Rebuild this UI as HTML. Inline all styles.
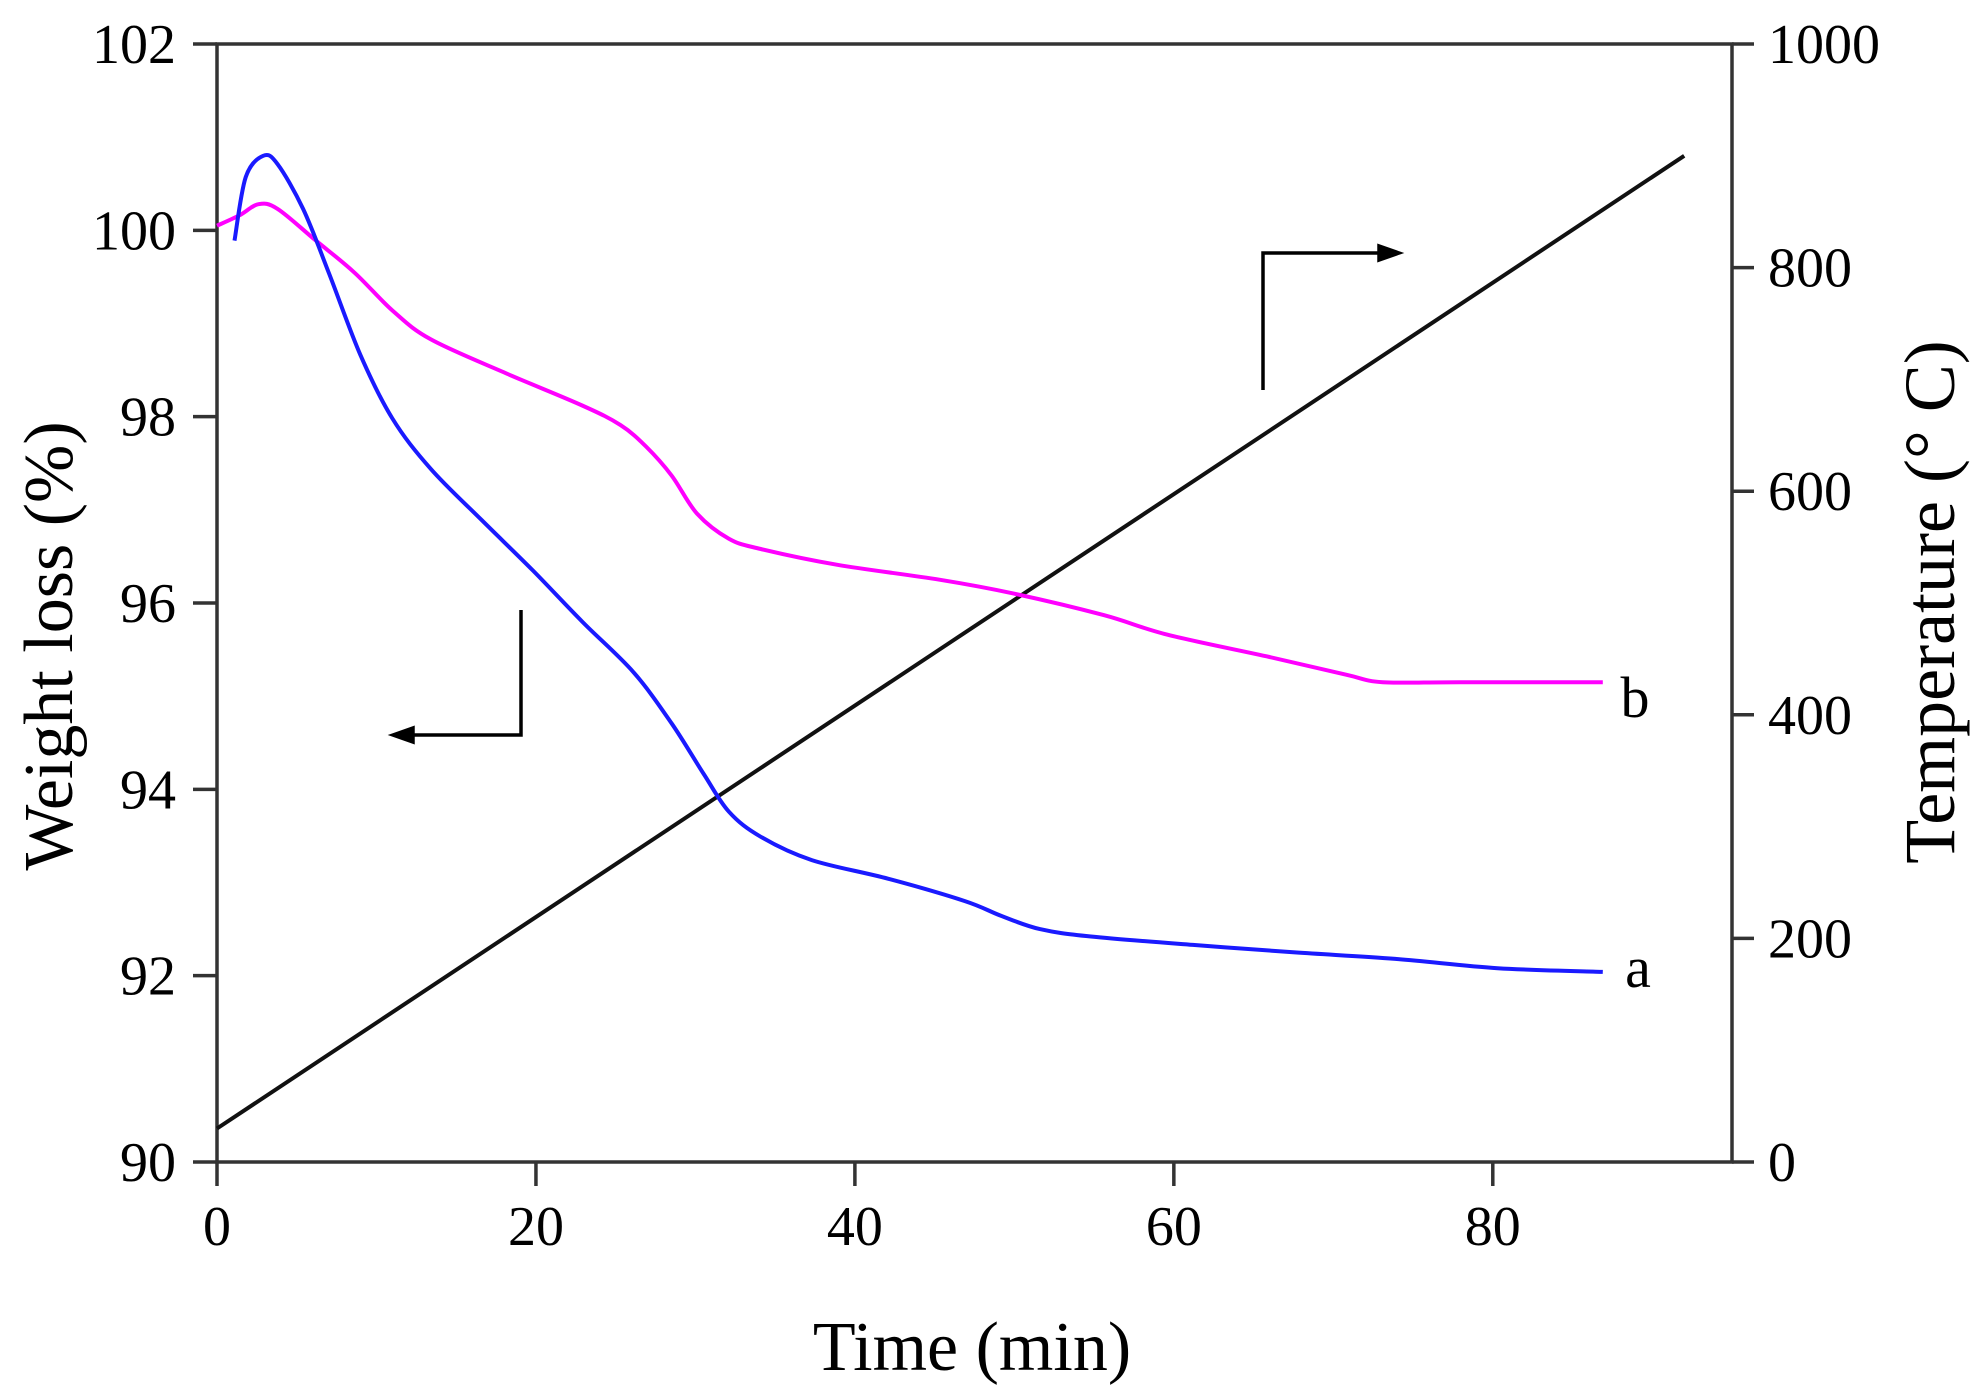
<!DOCTYPE html>
<html><head><meta charset="utf-8">
<style>
html,body{margin:0;padding:0;background:#fff;}
svg{display:block;font-family:"Liberation Serif",serif;}
</style></head>
<body>
<svg id="chart" width="1986" height="1397" viewBox="0 0 1986 1397" xmlns="http://www.w3.org/2000/svg">
<g id="axes"></g>
<g id="series"></g>
<text x="972" y="1370" font-size="70" text-anchor="middle">Time (min)</text>
<text transform="translate(72,646) rotate(-90)" font-size="70" text-anchor="middle">Weight loss (%)</text>
<text transform="translate(1954,602) rotate(-90)" font-size="72" text-anchor="middle">Temperature (° C)</text>
<text x="1638" y="987" font-size="58" text-anchor="middle">a</text>
<text x="1635" y="717" font-size="58" text-anchor="middle">b</text>
<g stroke="#000" stroke-width="3.5" fill="none">
  <polyline points="521,610 521,735 410,735"/>
  <polygon points="393,735 413,728 413,742" fill="#000"/>
</g>
<g stroke="#000" stroke-width="3.5" fill="none">
  <polyline points="1263,390 1263,253 1382,253"/>
  <polygon points="1399,253 1379,246 1379,260" fill="#000"/>
</g>
</svg>
<script>
const xTicks=[0,20,40,60,80];
const yTicks=[90,92,94,96,98,100,102];
const y2Ticks=[0,200,400,600,800,1000];
const timeA=[1.1,1.8,2.9,3.8,5.4,7.0,9.0,11,13.4,16.6,19.8,22.9,26.1,28.5,30.5,32.1,34.1,37.3,42.1,46.9,49.2,51.6,54.8,61.2,67.6,73.9,80.3,86.9];
const weightA=[99.89,100.57,100.80,100.71,100.23,99.55,98.66,97.98,97.44,96.89,96.35,95.80,95.26,94.71,94.17,93.76,93.49,93.24,93.04,92.80,92.64,92.50,92.42,92.33,92.25,92.18,92.08,92.04];
const timeB=[0,1.4,2.6,3.8,6.2,8.6,11,13.4,18.2,22.9,25.3,26.9,28.5,30.1,32.1,34.1,38.9,45.3,50.0,55.6,59.6,66.0,70.8,73.1,77.9,86.9];
const weightB=[100.05,100.16,100.28,100.23,99.89,99.55,99.14,98.83,98.46,98.12,97.91,97.68,97.37,96.96,96.69,96.58,96.41,96.25,96.10,95.87,95.66,95.42,95.23,95.15,95.15,95.15];
const timeT=[0,92];
const tempT=[30,900];

const L=217,R=1732,T=44,B=1162;
const X=t=>L+(t-0)/(95-0)*(R-L);
const Y=w=>B-(w-90)/(102-90)*(B-T);
const Y2=c=>B-c/1000*(B-T);
const NS="http://www.w3.org/2000/svg";
function mk(tag,attrs,parent){const e=document.createElementNS(NS,tag);for(const k in attrs)e.setAttribute(k,attrs[k]);parent.appendChild(e);return e;}
const axes=document.getElementById('axes');
let f=mk('rect',{x:L,y:T,width:R-L,height:B-T,fill:'none',stroke:'#333',"stroke-width":3.5},axes);


xTicks.forEach(t=>{
  const l=mk('line',{x1:X(t),x2:X(t),y1:B,y2:B+24,stroke:'#333',"stroke-width":3.5},axes);
  
  
  const tx=mk('text',{x:X(t),y:1245,"font-size":56,"text-anchor":"middle"},axes);
  tx.textContent=t;
  
  
});
yTicks.forEach(v=>{
  const l=mk('line',{x1:L-24,x2:L,y1:Y(v),y2:Y(v),stroke:'#333',"stroke-width":3.5},axes);
  
  
  const tx=mk('text',{x:176,y:Y(v)+19,"font-size":56,"text-anchor":"end"},axes);
  tx.textContent=v;
  
  
});
y2Ticks.forEach(v=>{
  const l=mk('line',{x1:R,x2:R+22,y1:Y2(v),y2:Y2(v),stroke:'#333',"stroke-width":3.5},axes);
  
  
  const tx=mk('text',{x:1768,y:Y2(v)+19,"font-size":56,"text-anchor":"start"},axes);
  tx.textContent=v;
  
  
});
const ser=document.getElementById('series');
function smoothPath(p){
  let d='M'+p[0][0].toFixed(1)+','+p[0][1].toFixed(1);
  for(let i=0;i<p.length-1;i++){
    const p0=p[i-1]||p[i],p1=p[i],p2=p[i+1],p3=p[i+2]||p2;
    const c1=[p1[0]+(p2[0]-p0[0])/6,p1[1]+(p2[1]-p0[1])/6];
    const c2=[p2[0]-(p3[0]-p1[0])/6,p2[1]-(p3[1]-p1[1])/6];
    d+=' C'+c1[0].toFixed(1)+','+c1[1].toFixed(1)+' '+c2[0].toFixed(1)+','+c2[1].toFixed(1)+' '+p2[0].toFixed(1)+','+p2[1].toFixed(1);
  }
  return d;
}
function line(xs,ys,yf,color,name){
  const pts=xs.map((x,i)=>[X(x),yf(ys[i])]);
  const p=mk('path',{d:smoothPath(pts),fill:'none',stroke:color,"stroke-width":4,"stroke-linejoin":"round"},ser);
  
  
}
line(timeT,tempT,Y2,'#111','temperature-line');
line(timeB,weightB,Y,'#ff00ff','weight-series-b');
line(timeA,weightA,Y,'#1a1aff','weight-series-a');
</script>
</body></html>
